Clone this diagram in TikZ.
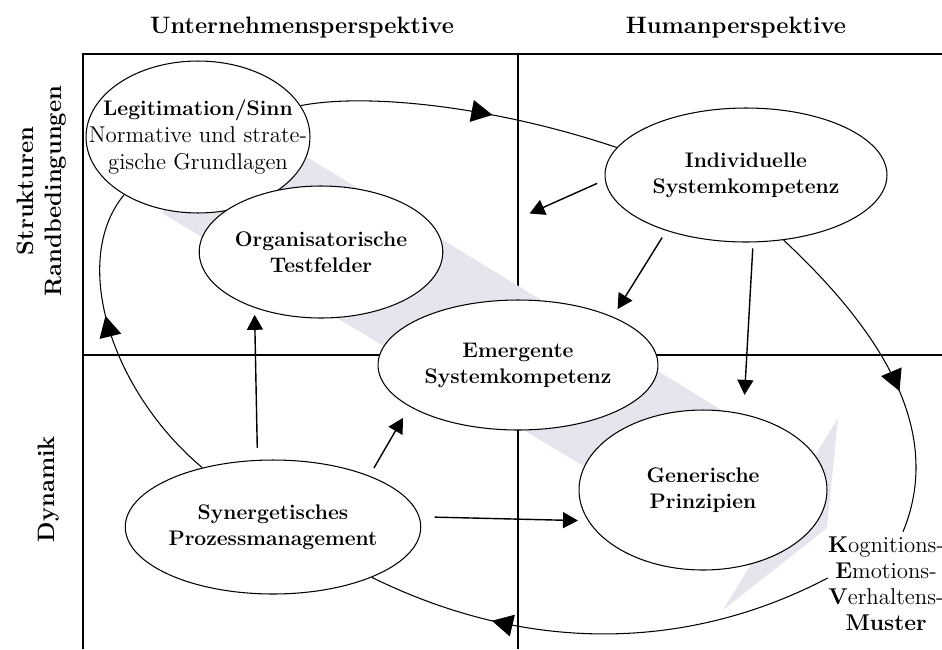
\documentclass[tikz,border=0pt]{standalone}
\usetikzlibrary{shapes.geometric,arrows.meta,decorations.markings}
\definecolor{bandgrau}{RGB}{229,229,238}
\tikzset{
  feld/.style={draw, ellipse, fill=white, line width=0.6pt, inner sep=0pt, align=center,
    font=\fontsize{12}{14.8}\selectfont\bfseries},
  pfeil/.style={line width=0.8pt, -{Triangle[length=0.3cm,width=0.32cm]}},
  bogen/.style={line width=0.6pt, postaction={decorate, decoration={markings,
    mark=at position #1 with {\arrow{Triangle[length=0.42cm,width=0.44cm]}}}}},
  titel/.style={font=\fontsize{13.5}{16}\selectfont\bfseries, align=center}
}

\begin{document}
\begin{tikzpicture}[x=0.02cm,y=-0.02cm]
\useasboundingbox (0,0) rectangle (942,649);
% Achsen
\draw[line width=1pt] (83,649) -- (83,54) -- (942,54);
\draw[line width=1pt] (518,54) -- (518,649);
\draw[line width=1pt] (83,355) -- (942,355);
% Titel
\node[titel] (unt) at (302,28) {Unternehmensperspektive};
\node[titel] (hum) at (736,28) {Humanperspektive};
\node[titel, rotate=90] (struk) at (42,191) {Strukturen\\Randbedingungen};
\node[titel, rotate=90] (dyn) at (49,489) {Dynamik};
% Band
\fill[bandgrau] (162,213) -- (225,107) -- (810,464) -- (838,418) -- (827,528)
  -- (723,610) -- (750,566) -- cycle;
% Felder
\node[feld, minimum width=4.48cm, minimum height=3.04cm, inner xsep=-0.9cm,
  font=\fontsize{13}{15.4}\selectfont] (legit) at (198,137)
  {\textbf{\fontsize{12}{15.4}\selectfont Legitimation/Sinn}\\Normative und strate-\\gische Grundlagen};
\node[feld, minimum width=4.04cm, minimum height=2.64cm] (orga) at (321,252) {Organisatorische\\Testfelder};
\node[feld, minimum width=5.6cm, minimum height=2.6cm] (emerg) at (518,365) {Emergente\\Systemkompetenz};
\node[feld, minimum width=5.64cm, minimum height=2.68cm] (indiv) at (746,175) {Individuelle\\Systemkompetenz};
\node[feld, minimum width=4.96cm, minimum height=3.2cm] (gener) at (703,490) {Generische\\Prinzipien};
\node[feld, minimum width=5.6cm, minimum height=2.68cm] (syner) at (273,527) {Synergetisches\\Prozessmanagement};
\node[align=center, inner sep=0pt, font=\fontsize{13}{14.8}\selectfont] (kevm) at (886,584)
  {\textbf{K}ognitions-\\\textbf{E}motions-\\\textbf{V}erhaltens-\\\textbf{Muster}};
% Kreislauf
\draw[bogen=0.6] (legit.17) .. controls (370,92) and (500,108) .. (indiv.168);
\draw[bogen=0.57] (indiv.-60) .. controls (880,330) and (945,430) .. ([xshift=0.34cm,yshift=0.1cm]kevm.north);
\draw[bogen=0.73] ([yshift=0.12cm]kevm.west) .. controls (700,645) and (540,660) .. (syner.-27);
\draw[bogen=0.59] (syner.140) .. controls (110,390) and (70,260) .. (legit.-142);
% Wirkungen
\draw[pfeil, shorten <=0.17cm, shorten >=1.89cm] (indiv.182) -- (orga.east);
\draw[pfeil, shorten <=0.16cm, shorten >=0.18cm] (indiv.-145) -- (emerg.27);
\draw[pfeil, shorten <=0.12cm, shorten >=0.38cm] (indiv.-84) -- (gener.62);
\draw[pfeil, shorten <=0.24cm, shorten >=0.14cm] (syner.103) -- (orga.-140);
\draw[pfeil, shorten <=0.18cm, shorten >=0.26cm] (syner.28) -- (emerg.201);
\draw[pfeil, shorten <=0.3cm, shorten >=0.2cm] (syner.4) -- (gener.195);
\end{tikzpicture}
\end{document}
